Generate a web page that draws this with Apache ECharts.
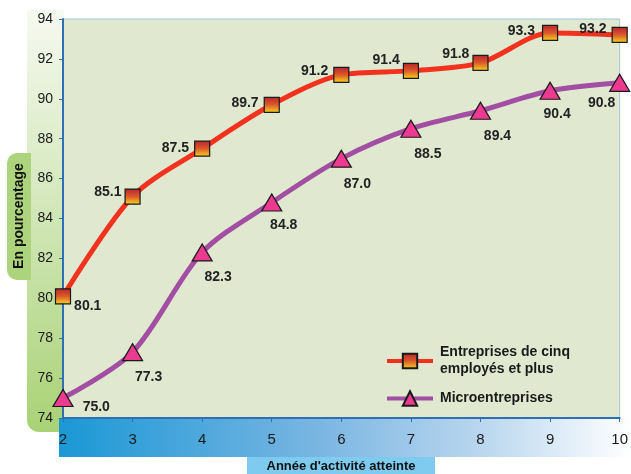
<!DOCTYPE html>
<html>
<head>
<meta charset="utf-8">
<script src="https://cdn.jsdelivr.net/npm/echarts@6/dist/echarts.min.js"></script>
<style>
  html, body { margin: 0; padding: 0; background: #ffffff; }
  #chart { width: 631px; height: 474px; }
</style>
</head>
<body>
<div id="chart"></div>
<script>
// Years of activity reached
var years = ['2', '3', '4', '5', '6', '7', '8', '9', '10'];
// Survival rate (%) — firms with five or more employees
var largeFirms = [80.1, 85.1, 87.5, 89.7, 91.2, 91.4, 91.8, 93.3, 93.2];
// Survival rate (%) — micro-enterprises
var microFirms = [75.0, 77.3, 82.3, 84.8, 87.0, 88.5, 89.4, 90.4, 90.8];
var yTicks = [74, 76, 78, 80, 82, 84, 86, 88, 90, 92, 94];

var seriesNames = ['Entreprises de cinq\nemployés et plus', 'Microentreprises'];

// label placement per point
var largePos = [
  { position: 'right', offset: [-2, 10] },
  { position: 'left', offset: [2, -4] },
  { position: 'left', offset: [0, -1] },
  { position: 'left', offset: [0, -2] },
  { position: 'left', offset: [0, -4] },
  { position: 'left', offset: [2, -11] },
  { position: 'left', offset: [2, -9] },
  { position: 'left', offset: [-2, -2] },
  { position: 'left', offset: [0, -6] }
];
var microPos = [
  { position: 'right', offset: [4, 9] },
  { position: 'bottom', offset: [16, 4] },
  { position: 'bottom', offset: [16, 4] },
  { position: 'bottom', offset: [12, 2] },
  { position: 'bottom', offset: [16, 4] },
  { position: 'bottom', offset: [17, 4] },
  { position: 'bottom', offset: [17, 4] },
  { position: 'bottom', offset: [7, 2] },
  { position: 'bottom', offset: [-18, -1] }
];

var squareFill = new echarts.graphic.LinearGradient(0, 0, 0, 1, [
  { offset: 0, color: '#b8232e' },
  { offset: 0.5, color: '#dc5a2a' },
  { offset: 1, color: '#f8d81e' }
]);

function buildData(values, placement) {
  return values.map(function (v, i) {
    return { value: v, label: placement[i] };
  });
}

var chart = echarts.init(document.getElementById('chart'), null, { renderer: 'canvas' });

chart.setOption({
  animation: false,
  textStyle: { fontFamily: 'Liberation Sans, Arial, sans-serif' },
  graphic: [
    // pale green strip behind the y-axis labels
    {
      type: 'rect', z: -10,
      shape: { x: 27, y: 10, width: 37, height: 422, r: [0, 0, 0, 12] },
      style: {
        fill: new echarts.graphic.LinearGradient(0, 0, 0, 1, [
          { offset: 0, color: '#f6f9f0' },
          { offset: 0.45, color: '#d4e8bc' },
          { offset: 1, color: '#a9d275' }
        ])
      }
    },
    // y-axis title box
    {
      type: 'rect', z: -5,
      shape: { x: 7, y: 153, width: 24, height: 127, r: [10, 0, 0, 10] },
      style: { fill: '#add47c' }
    },
    {
      type: 'text', z: 10,
      x: 19, y: 216, rotation: Math.PI / 2,
      style: {
        text: 'En pourcentage',
        font: 'bold 14px Liberation Sans, Arial, sans-serif',
        fill: '#111111', align: 'center', verticalAlign: 'middle'
      }
    },
    // blue gradient band under the x axis
    {
      type: 'rect', z: -10,
      shape: { x: 59, y: 418, width: 572, height: 39 },
      style: {
        fill: new echarts.graphic.LinearGradient(0, 0, 1, 0, [
          { offset: 0, color: '#1a98d5' },
          { offset: 0.45, color: '#79b5e2' },
          { offset: 0.75, color: '#bcd8ef' },
          { offset: 1, color: '#ffffff' }
        ])
      }
    },
    // x-axis title box
    {
      type: 'rect', z: -5,
      shape: { x: 247, y: 457, width: 188, height: 17 },
      style: { fill: '#7fcaef' }
    },
    {
      type: 'text', z: 10,
      x: 341, y: 466,
      style: {
        text: "Année d'activité atteinte",
        font: 'bold 13px Liberation Sans, Arial, sans-serif',
        fill: '#111111', align: 'center', verticalAlign: 'middle'
      }
    }
  ],
  grid: {
    left: 63, right: 8, top: 19, bottom: 56,
    show: true,
    backgroundColor: '#e0e8d0',
    borderColor: '#a6c4de',
    borderWidth: 1
  },
  legend: {
    orient: 'vertical',
    left: 380, top: 339,
    itemWidth: 46, itemHeight: 18,
    itemGap: 12,
    lineStyle: { width: 4 },
    textStyle: {
      fontSize: 14, fontWeight: 'bold', color: '#1a1a1a',
      lineHeight: 17, padding: [0, 0, 0, 2]
    },
    data: seriesNames
  },
  xAxis: {
    type: 'category',
    data: years,
    boundaryGap: false,
    axisLine: { lineStyle: { color: '#2f6fb3', width: 2 } },
    axisTick: { inside: false, length: 4, lineStyle: { color: '#2f6fb3' } },
    axisLabel: { fontSize: 15, color: '#1a1a1a', margin: 14 },
    splitLine: { show: false }
  },
  yAxis: {
    type: 'value',
    min: yTicks[0], max: yTicks[yTicks.length - 1], interval: 2,
    axisLine: { show: true, lineStyle: { color: '#2f6fb3', width: 2 } },
    axisTick: { show: true, length: 4, lineStyle: { color: '#2f6fb3' } },
    axisLabel: { fontSize: 14, color: '#1a1a1a', margin: 10 },
    splitLine: { show: false }
  },
  series: [
    {
      name: seriesNames[0],
      type: 'line',
      smooth: 0.3,
      data: buildData(largeFirms, largePos),
      symbol: 'rect',
      symbolSize: 15,
      lineStyle: { color: '#f2311e', width: 5 },
      itemStyle: { color: squareFill, borderColor: '#1a1a1a', borderWidth: 1.2 },
      label: {
        show: true, fontSize: 14, fontWeight: 'bold', color: '#222222',
        formatter: function (p) { return p.value.toFixed(1); }
      },
      z: 3
    },
    {
      name: seriesNames[1],
      type: 'line',
      smooth: 0.3,
      data: buildData(microFirms, microPos),
      symbol: 'triangle',
      symbolSize: [20, 17],
      lineStyle: { color: '#a24fa3', width: 5 },
      itemStyle: { color: '#ec3a90', borderColor: '#1a1a1a', borderWidth: 1.2 },
      label: {
        show: true, fontSize: 14, fontWeight: 'bold', color: '#222222',
        formatter: function (p) { return p.value.toFixed(1); }
      },
      z: 2
    }
  ]
});
</script>
</body>
</html>
